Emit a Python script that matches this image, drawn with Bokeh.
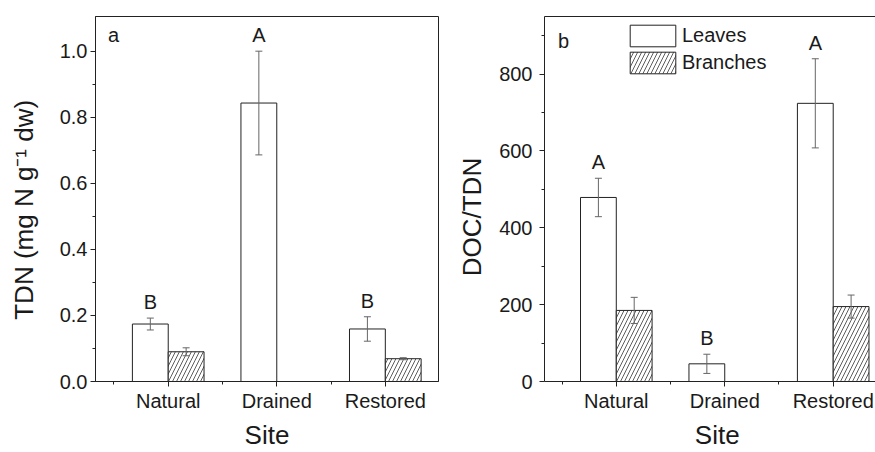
from bokeh.plotting import figure
from bokeh.layouts import row
from bokeh.models import (ColumnDataSource, FixedTicker, Whisker, TeeHead, Label,
                          Legend, LegendItem, LinearAxis, NumeralTickFormatter, Range1d)
from bokeh.transform import dodge
from bokeh.core.properties import value
from bokeh.embed import file_html
from bokeh.resources import INLINE

# ---------------- data ----------------
sites = ["Natural", "Drained", "Restored"]
site_pos = [1, 2, 3]

tdn_leaves = [0.174, 0.843, 0.159]
tdn_leaves_err = [0.018, 0.157, 0.037]
tdn_branches = [0.090, None, 0.069]
tdn_branches_err = [0.012, None, 0.003]
tdn_letters = ["B", "A", "B"]

doc_leaves = [479, 46, 724]
doc_leaves_err = [50, 25, 116]
doc_branches = [185, None, 195]
doc_branches_err = [34, None, 30]
doc_letters = ["A", "B", "A"]

tdn_yticks = [0.0, 0.2, 0.4, 0.6, 0.8, 1.0]
tdn_yminor = [0.1, 0.3, 0.5, 0.7, 0.9]
doc_yticks = [0, 200, 400, 600, 800]
doc_yminor = [100, 300, 500, 700, 900]

FONT = "Liberation Sans"
TXT = "#1a1a1a"
LINE = "#222222"
ERR = "#666666"
OFF = 0.165
BW = 0.33
NB = "\u00a0"


def src(vals, errs):
    xs, tops, lo, hi = [], [], [], []
    for x, v, e in zip(site_pos, vals, errs):
        if v is None:
            continue
        xs.append(x)
        tops.append(v)
        lo.append(v - e)
        hi.append(v + e)
    return ColumnDataSource(dict(x=xs, top=tops, lower=lo, upper=hi))


def make(width, border_left, border_right, border_top, x_start, x_end, y_end,
         yticks, yminor, ylabel, leaves, leaves_err, branches, branches_err,
         letters, tag, tag_xy, y_title_standoff, label_standoff, fmt, outline, xlabel):
    p = figure(width=width, height=452, output_backend="svg", toolbar_location=None,
               x_range=Range1d(x_start, x_end), y_range=Range1d(0, y_end),
               min_border_left=border_left, min_border_right=border_right,
               min_border_top=border_top, min_border_bottom=71)
    p.xgrid.visible = False
    p.ygrid.visible = False
    p.background_fill_color = "white"
    p.border_fill_color = "white"

    ls = src(leaves, leaves_err)
    bs = src(branches, branches_err)
    rl = p.vbar(x=dodge("x", -OFF), top="top", width=BW, source=ls,
                fill_color="white", line_color=LINE, line_width=1)
    rb = p.vbar(x=dodge("x", OFF), top="top", width=BW, source=bs,
                fill_color="white", line_color=LINE, line_width=1,
                hatch_pattern="/", hatch_scale=8, hatch_weight=0.8, hatch_color="#333333")
    for s, off in ((ls, -OFF), (bs, OFF)):
        w = Whisker(source=s, base=dodge("x", off), upper="upper", lower="lower",
                    line_color=ERR, line_width=1, level="overlay",
                    upper_head=TeeHead(size=7, line_color=ERR, line_width=1),
                    lower_head=TeeHead(size=7, line_color=ERR, line_width=1))
        p.add_layout(w)

    ls.data["letter"] = [l for l, v in zip(letters, leaves) if v is not None]
    p.text(x=dodge("x", -OFF), y="upper", text="letter", source=ls, y_offset=-16,
           text_align="center", text_baseline="alphabetic", text_font=value(FONT),
           text_font_size="20px", text_color=TXT)

    p.add_layout(Label(x=tag_xy[0], y=tag_xy[1], x_units="screen", y_units="screen",
                       text=tag, text_font=FONT, text_font_size="20px", text_color=TXT,
                       text_align="center", text_baseline="alphabetic"))

    xa = p.below[0]
    ya = p.left[0]
    xa.ticker = FixedTicker(ticks=site_pos, minor_ticks=[0.5, 1.5, 2.5, 3.5])
    xa.major_label_overrides = {k: v for k, v in zip(site_pos, sites)}
    ya.ticker = FixedTicker(ticks=yticks, minor_ticks=yminor)
    if fmt:
        ya.formatter = NumeralTickFormatter(format=fmt)
    for ax in (xa, ya):
        ax.axis_line_color = LINE
        ax.major_tick_line_color = LINE
        ax.minor_tick_line_color = LINE
        ax.major_tick_in = 0
        ax.major_tick_out = 5
        ax.minor_tick_in = 0
        ax.minor_tick_out = 3
        ax.major_label_text_font = FONT
        ax.major_label_text_font_size = "20px"
        ax.major_label_text_color = TXT
        ax.axis_label_text_font = FONT
        ax.axis_label_text_font_size = "26px"
        ax.axis_label_text_font_style = "normal"
        ax.axis_label_text_color = TXT
    xa.major_label_standoff = 3
    xa.axis_label = xlabel
    xa.axis_label_standoff = 5
    ya.major_label_standoff = label_standoff
    ya.axis_label = ylabel
    ya.axis_label_standoff = y_title_standoff

    if outline:
        p.outline_line_color = LINE
        p.outline_line_width = 1
    else:
        p.outline_line_color = None
        top = LinearAxis(ticker=FixedTicker(ticks=[]), major_tick_out=0, minor_tick_out=0,
                         major_tick_in=0, minor_tick_in=0,
                         major_label_standoff=0, axis_line_color=LINE)
        p.add_layout(top, "above")
    return p, rl, rb


p1, _, _ = make(440, 95, 2, 15, 0.33, 3.49, 1.105, tdn_yticks, tdn_yminor,
                "TDN (mg N g\u207b\u00b9 dw)" + NB * 3,
                tdn_leaves, tdn_leaves_err, tdn_branches, tdn_branches_err,
                tdn_letters, "a", (18, 366 - 19), 18, 3, "0.0", True, "Site")
p2, rl2, rb2 = make(435, 104, 0, 16, 0.338, 3.39, 950, doc_yticks, doc_yminor,
                    "DOC/TDN" + NB * 5,
                    doc_leaves, doc_leaves_err, doc_branches, doc_branches_err,
                    doc_letters, "b", (19, 365 - 24), 9, 7, None, False, NB * 2 + "Site")

legend = Legend(items=[LegendItem(label="Leaves", renderers=[rl2]),
                       LegendItem(label="Branches", renderers=[rb2])],
                location=(80, 305.5), glyph_width=57, glyph_height=27, label_height=22,
                label_standoff=1, spacing=-1, padding=0, margin=0,
                border_line_color=None, background_fill_alpha=0,
                label_text_font=FONT, label_text_font_size="20px", label_text_color=TXT)
p2.add_layout(legend)

layout = row(p1, p2)
open("out.html", "w").write(file_html(layout, INLINE))
